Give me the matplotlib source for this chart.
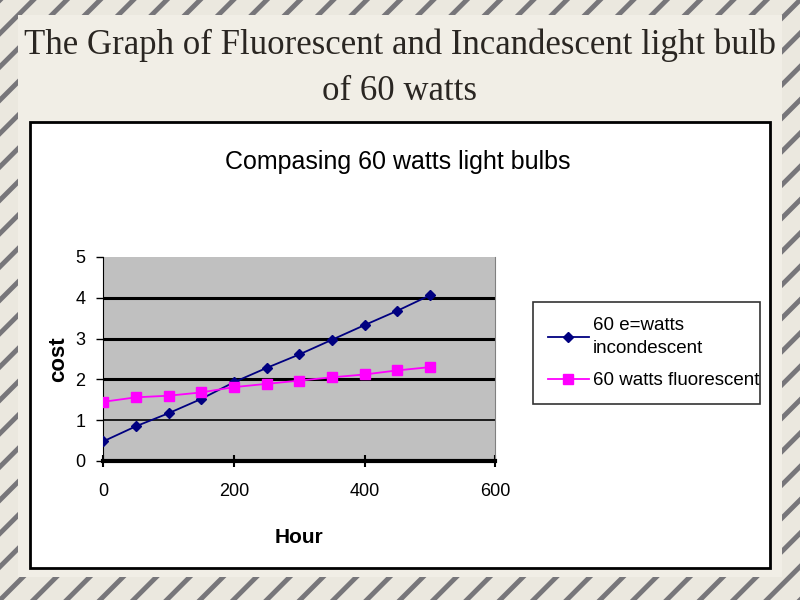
import matplotlib.pyplot as plt
from matplotlib.patches import Rectangle

hours = [0, 50, 100, 150, 200, 250, 300, 350, 400, 450, 500]
incandescent = [0.48, 0.85, 1.17, 1.52, 1.93, 2.28, 2.61, 2.97, 3.33, 3.68, 4.06]
fluorescent = [1.45, 1.56, 1.60, 1.68, 1.81, 1.89, 1.97, 2.05, 2.12, 2.22, 2.30]

x_ticks = [0, 200, 400, 600]
y_ticks = [0, 1, 2, 3, 4, 5]

sans = ['Liberation Sans', 'DejaVu Sans']
serif = ['Liberation Serif', 'DejaVu Serif']
plt.rcParams['hatch.linewidth'] = 3.5
plt.rcParams['hatch.color'] = '#77767a'

fig = plt.figure(figsize=(8, 6), dpi=100)

# slide background with striped frame
fig.patches.append(Rectangle((0, 0), 1, 1, transform=fig.transFigure,
                             facecolor='#ebe8df', edgecolor='#77767a',
                             hatch='/', linewidth=0, zorder=0))
fig.patches.append(Rectangle((0.022, 0.038), 0.955, 0.937, transform=fig.transFigure,
                             facecolor='#f1eee6', edgecolor='none', zorder=1))
# white chart box
fig.patches.append(Rectangle((0.0375, 0.0533), 0.925, 0.7434, transform=fig.transFigure,
                             facecolor='white', edgecolor='black', linewidth=2, zorder=2))

fig.text(0.5, 0.925, 'The Graph of Fluorescent and Incandescent light bulb',
         family=serif, fontsize=25, ha='center', va='center', color='#2a2622')
fig.text(0.5, 0.847, 'of 60 watts',
         family=serif, fontsize=25, ha='center', va='center', color='#2a2622')

fig.text(0.497, 0.73, 'Compasing 60 watts light bulbs', family=sans,
         fontsize=18, ha='center', va='center')

ax = fig.add_axes([0.129, 0.2317, 0.49, 0.34], zorder=3)
ax.set_facecolor('#c0c0c0')

for y in [1, 2, 3, 4]:
    ax.axhline(y, color='black', linewidth=2.2 if y > 1 else 1.2, zorder=1)

ax.plot(hours, incandescent, color='#000080', marker='D', markersize=5,
        linewidth=1.3, label='60 e=watts\nincondescent', zorder=3)
ax.plot(hours, fluorescent, color='#ff00ff', marker='s', markersize=7,
        linewidth=1.3, label='60 watts fluorescent', zorder=3)

ax.set_xlim(0, 600)
ax.set_ylim(0, 5)
ax.set_xticks(x_ticks)
ax.set_yticks(y_ticks)
ax.set_xticklabels([str(v) for v in x_ticks], family=sans, fontsize=13)
ax.set_yticklabels([str(v) for v in y_ticks], family=sans, fontsize=13)
ax.tick_params(axis='x', direction='inout', length=8, width=1.5, pad=12)
ax.tick_params(axis='y', direction='out', length=5, width=1, pad=8)

ax.spines['top'].set_visible(False)
ax.spines['right'].set_color('#808080')
ax.spines['left'].set_color('black')
ax.spines['bottom'].set_linewidth(3)

ax.set_xlabel('Hour', family=sans, fontsize=15, fontweight='bold', labelpad=20)
ax.set_ylabel('cost', family=sans, fontsize=16, fontweight='bold', labelpad=4)

leg = ax.legend(loc='upper left', bbox_to_anchor=(0.666, 0.303, 0.284, 0.194),
                bbox_transform=fig.transFigure, mode='expand', frameon=True,
                borderaxespad=0, fancybox=False, prop={'family': sans, 'size': 13.5},
                handlelength=2.2, borderpad=0.8, labelspacing=0.8, handletextpad=0.2)
leg.get_texts()[0].set_linespacing(1.5)
leg.get_frame().set_edgecolor('black')
leg.get_frame().set_linewidth(1.2)

fig.savefig('out.png', dpi=100)
